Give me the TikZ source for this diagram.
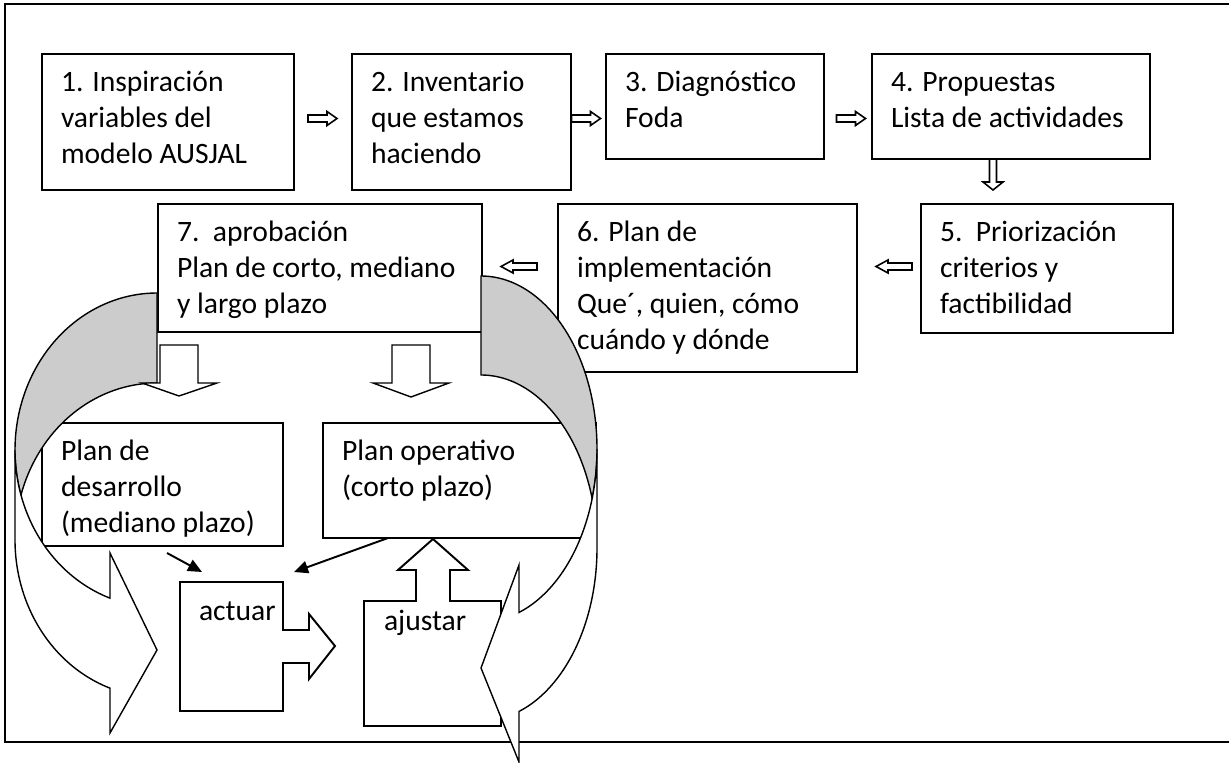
\documentclass[tikz,border=0pt]{standalone}
\usepackage{fontspec}
\setmainfont{Carlito}
\usetikzlibrary{arrows.meta,fit}
\definecolor{bandgray}{RGB}{204,204,204}
\newcommand{\fs}{\fontsize{16.84pt}{20.49pt}\selectfont}
\newcommand{\tstrut}{\rule{0pt}{14.34pt}}
\tikzset{
  box/.style={draw, line width=1.1pt, fill=white, inner sep=0pt, outer sep=0pt},
  txt/.style={anchor=north west, inner sep=0pt, outer sep=0pt, align=left, font=\fs},
  harr/.style={draw, line width=0.9pt, fill=white, line join=miter},
  blk/.style={draw, line width=0.8pt, fill=white, line join=miter},
  band/.style={draw, line width=0.8pt, fill=bandgray},
  front/.style={draw, line width=0.8pt, fill=white},
  blkarr/.style={line width=1.1pt, -{Triangle[length=8pt,width=7pt]}},
  rarr/.pic={\draw[harr] (-14.5,-3.5) -- (4.5,-3.5) -- (4.5,-7) -- (14.5,0) -- (4.5,7) -- (4.5,3.5) -- (-14.5,3.5) -- cycle;},
  larr/.pic={\draw[harr] (18,-3.5) -- (-6,-3.5) -- (-6,-6.5) -- (-18,0) -- (-6,6.5) -- (-6,3.5) -- (18,3.5) -- cycle;},
  darr/.pic={\draw[harr] (-3.5,-15.5) -- (3.5,-15.5) -- (3.5,7.5) -- (10,7.5) -- (0,15.5) -- (-10,7.5) -- (-3.5,7.5) -- cycle;}
}
\begin{document}
\begin{tikzpicture}[x=0.02cm,y=-0.02cm]
\useasboundingbox (0,0) rectangle (1229,763);
% outer frame
\draw[line width=1.5pt] (1229,4) -- (5,4) -- (5,742) -- (1229,742);

% main boxes
\node[box, fit={(42,54) (294,190)}] (b1) {};
\node[box, fit={(352,54) (571,190)}] (b2) {};
\node[box, fit={(606,54) (824,159)}] (b3) {};
\node[box, fit={(872,54) (1150,159)}] (b4) {};
\node[box, fit={(921,204) (1173,333)}] (b5) {};
\node[box, fit={(558,204) (857,372)}] (b6) {};
\node[box, fit={(158,204) (482,332)}] (b7) {};
\node[box, fit={(42,423) (283,546)}] (bd) {};
\node[box, fit={(323,423) (596,538)}] (bo) {};

\node[txt] (t1) at ([shift={(19,12.8)}]b1.north west) {\tstrut 1. Inspiración\\variables del\\modelo AUSJAL};
\node[txt] (t2) at ([shift={(19,12.8)}]b2.north west) {\tstrut 2. Inventario\\que estamos\\haciendo};
\node[txt] (t3) at ([shift={(19,12.8)}]b3.north west) {\tstrut 3. Diagnóstico\\Foda};
\node[txt] (t4) at ([shift={(19,12.8)}]b4.north west) {\tstrut 4. Propuestas\\Lista de actividades};
\node[txt] (t5) at ([shift={(19,12.8)}]b5.north west) {\tstrut 5.\ \ Priorización\\criterios y\\factibilidad};
\node[txt] (t6) at ([shift={(19,12.8)}]b6.north west) {\tstrut 6. Plan de\\implementación\\Que´, quien, cómo\\cuándo y dónde};
\node[txt] (t7) at ([shift={(19,12.8)}]b7.north west) {\tstrut 7.\ \ aprobación\\Plan de corto, mediano\\y largo plazo};
\node[txt] (td) at ([shift={(19,12.8)}]bd.north west) {\tstrut Plan de\\desarrollo\\(mediano plazo)};
\node[txt] (to) at ([shift={(19,12.8)}]bo.north west) {\tstrut Plan operativo\\(corto plazo)};

% small hollow arrows between boxes
\pic at (322.5,118.5) {rarr};
\pic at (586,118.5) {rarr};
\pic at (851,118.5) {rarr};
\pic at (993,174.5) {darr};
\pic at (894,266.5) {larr};
\pic at (519,266.5) {larr};

% actuar (right arrow callout)
\draw[blk, line width=1.1pt] (180,582) -- (283,582) -- (283,630) -- (309,630) -- (309,614) -- (335,646)
  -- (309,679) -- (309,663) -- (283,663) -- (283,711) -- (180,711) -- cycle;
\node[txt] (tact) at (199,594.8) {\tstrut actuar};
% ajustar (up arrow callout)
\draw[blk, line width=1.1pt] (364,601) -- (416,601) -- (416,570) -- (398,570) -- (433,539) -- (468,570)
  -- (450,570) -- (450,601) -- (501,601) -- (501,726) -- (364,726) -- cycle;
\node[txt] (taj) at (384,604.8) {\tstrut ajustar};

% black connectors to actuar
\coordinate (ds) at (167,553);
\coordinate (de) at (202,572);
\coordinate (os) at (388,538);
\coordinate (oe) at (294,572);
\draw[blkarr] (ds) -- (de);
\draw[blkarr] (os) -- (oe);

% left curved arrow: back (grey) part
\draw[band] plot[domain=270:163.35, samples=70] ({157+142*cos(\x)},{450+157*sin(\x)})
  -- plot[domain=196.65:270, samples=70] ({157+142*cos(\x)},{540+157*sin(\x)}) -- cycle;
% right curved arrow: back (grey) part
\draw[band] plot[domain=-90:16.62, samples=70] ({481+116*cos(\x)},{449+173*sin(\x)})
  -- plot[domain=-16.62:-90, samples=70] ({481+116*cos(\x)},{548+173*sin(\x)}) -- cycle;

% left curved arrow: front part with head
\draw[front] plot[domain=180:109.33, samples=70] ({157+142*cos(\x)},{450+157*sin(\x)})
  -- (110,553) -- (157,650) -- (110,733)
  -- plot[domain=109.33:180, samples=70] ({157+142*cos(\x)},{540+157*sin(\x)}) -- cycle;
% right curved arrow: front part with head
\draw[front] plot[domain=0:70.88, samples=70] ({481+116*cos(\x)},{449+173*sin(\x)})
  -- (519,565) -- (481,668) -- (519,762)
  -- plot[domain=70.88:0, samples=70] ({481+116*cos(\x)},{548+173*sin(\x)}) -- cycle;

% block arrows below box 7
\draw[blk] (160,345) -- (198,345) -- (198,383) -- (217,383) -- (179,396) -- (142,383) -- (160,383) -- cycle;
\draw[blk] (392,345) -- (430,345) -- (430,383) -- (449,383) -- (411,397) -- (373,383) -- (392,383) -- cycle;
\end{tikzpicture}
\end{document}
